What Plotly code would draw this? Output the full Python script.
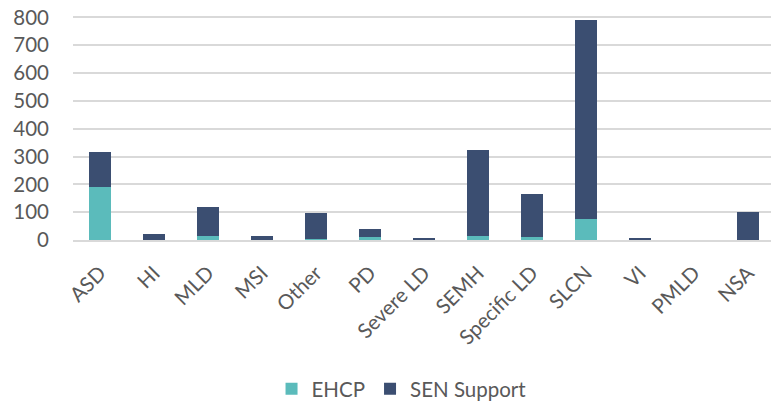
import plotly.graph_objects as go

categories = ["ASD", "HI", "MLD", "MSI", "Other", "PD", "Severe LD", "SEMH",
              "Specific LD", "SLCN", "VI", "PMLD", "NSA"]
ehcp = [192, 1, 13, 1, 3, 12, 2, 13, 12, 75, 1, 0, 0]
sen_support = [126, 20, 105, 12, 94, 28, 6, 309, 155, 717, 6, 0, 99]
y_ticks = [0, 100, 200, 300, 400, 500, 600, 700, 800]

font_family = "Lato, Open Sans, sans-serif"

fig = go.Figure()
fig.add_trace(go.Bar(x=categories, y=ehcp, name="EHCP", marker_color="#5BBBBB",
                     marker_line_width=0))
fig.add_trace(go.Bar(x=categories, y=sen_support, name="SEN Support",
                     marker_color="#3B4E71", marker_line_width=0))

fig.update_layout(
    barmode="stack",
    bargap=0.6,
    width=775, height=401,
    margin=dict(l=73, r=0, t=15.6, b=160.5, autoexpand=False),
    paper_bgcolor="white", plot_bgcolor="white",
    font=dict(family=font_family, size=20.5, color="#595959"),
    legend=dict(orientation="h", x=0.468, xanchor="center", y=-0.665, yanchor="middle",
                traceorder="normal", font=dict(size=20.5, color="#595959"),
                itemwidth=30),
    showlegend=True,
)
fig.update_xaxes(tickangle=-45, showline=True, linecolor="#d9d9d9", linewidth=2,
                 ticks="", showgrid=False, automargin=False, ticklabelstandoff=11)
fig.update_yaxes(range=[0, 805], tickvals=y_ticks, showgrid=True, gridcolor="#d9d9d9",
                 gridwidth=2, zeroline=False, ticks="", showline=False,
                 automargin=False, ticklabelstandoff=23)

fig.write_html("out.html", config={"displayModeBar": False},
               post_script="document.body.style.margin='0';document.body.style.overflow='hidden';")
